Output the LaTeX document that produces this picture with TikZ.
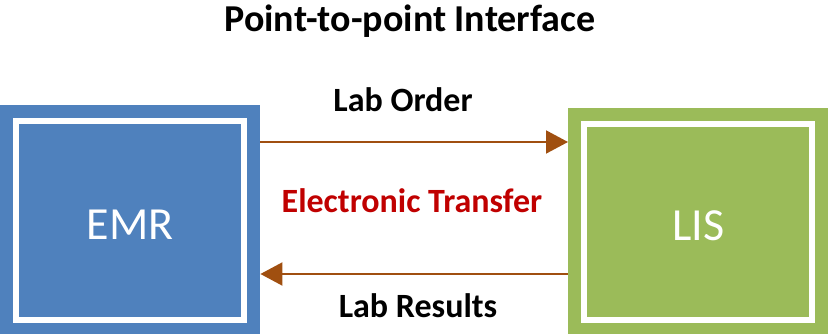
\documentclass[tikz,border=0pt]{standalone}
\usepackage{fontspec}
\setmainfont{Carlito}
\usetikzlibrary{arrows.meta}
\definecolor{emrblue}{HTML}{4F81BD}
\definecolor{lisgreen}{HTML}{9BBB59}
\definecolor{linkbrown}{HTML}{A04F10}
\definecolor{xferred}{HTML}{C00000}
\begin{document}
\begin{tikzpicture}[x=1pt,y=1pt,
  box/.style={anchor=south west,inner sep=0pt,minimum width=260pt,text=white,font=\fontsize{46}{50}\selectfont,text height=40pt},
  frame/.style={draw=white,line width=6pt},
  lbl/.style={anchor=base,inner sep=0pt,font=\bfseries\fontsize{34}{38}\selectfont},
  link/.style={draw=linkbrown,line width=2pt,-{Triangle[length=22pt,width=23pt]}}]
  \useasboundingbox (0,0) rectangle (828,334);
  % systems
  \node[box,fill=emrblue,minimum height=229pt] (emr) at (0,0) {EMR};
  \node[box,fill=lisgreen,minimum height=226pt] (lis) at (568,0) {LIS};
  \draw[frame] ([shift={(16,14)}]emr.south west) rectangle ([shift={(-16,-16)}]emr.north east);
  \draw[frame] ([shift={(16,14)}]lis.south west) rectangle ([shift={(-16,-16)}]lis.north east);
  % texts
  \node[lbl,font=\bfseries\fontsize{38}{42}\selectfont] (title) at (410,302) {Point-to-point Interface};
  \node[lbl] (order) at (403,222) {Lab Order};
  \node[lbl,text=xferred] (transfer) at (412,121) {Electronic Transfer};
  \node[lbl] (results) at (418,16) {Lab Results};
  % links
  \coordinate (upper) at (0,192);
  \coordinate (lower) at (0,60);
  \draw[link] (emr.east |- upper) -- (lis.west |- upper);
  \draw[link] (lis.west |- lower) -- (emr.east |- lower);
\end{tikzpicture}
\end{document}
